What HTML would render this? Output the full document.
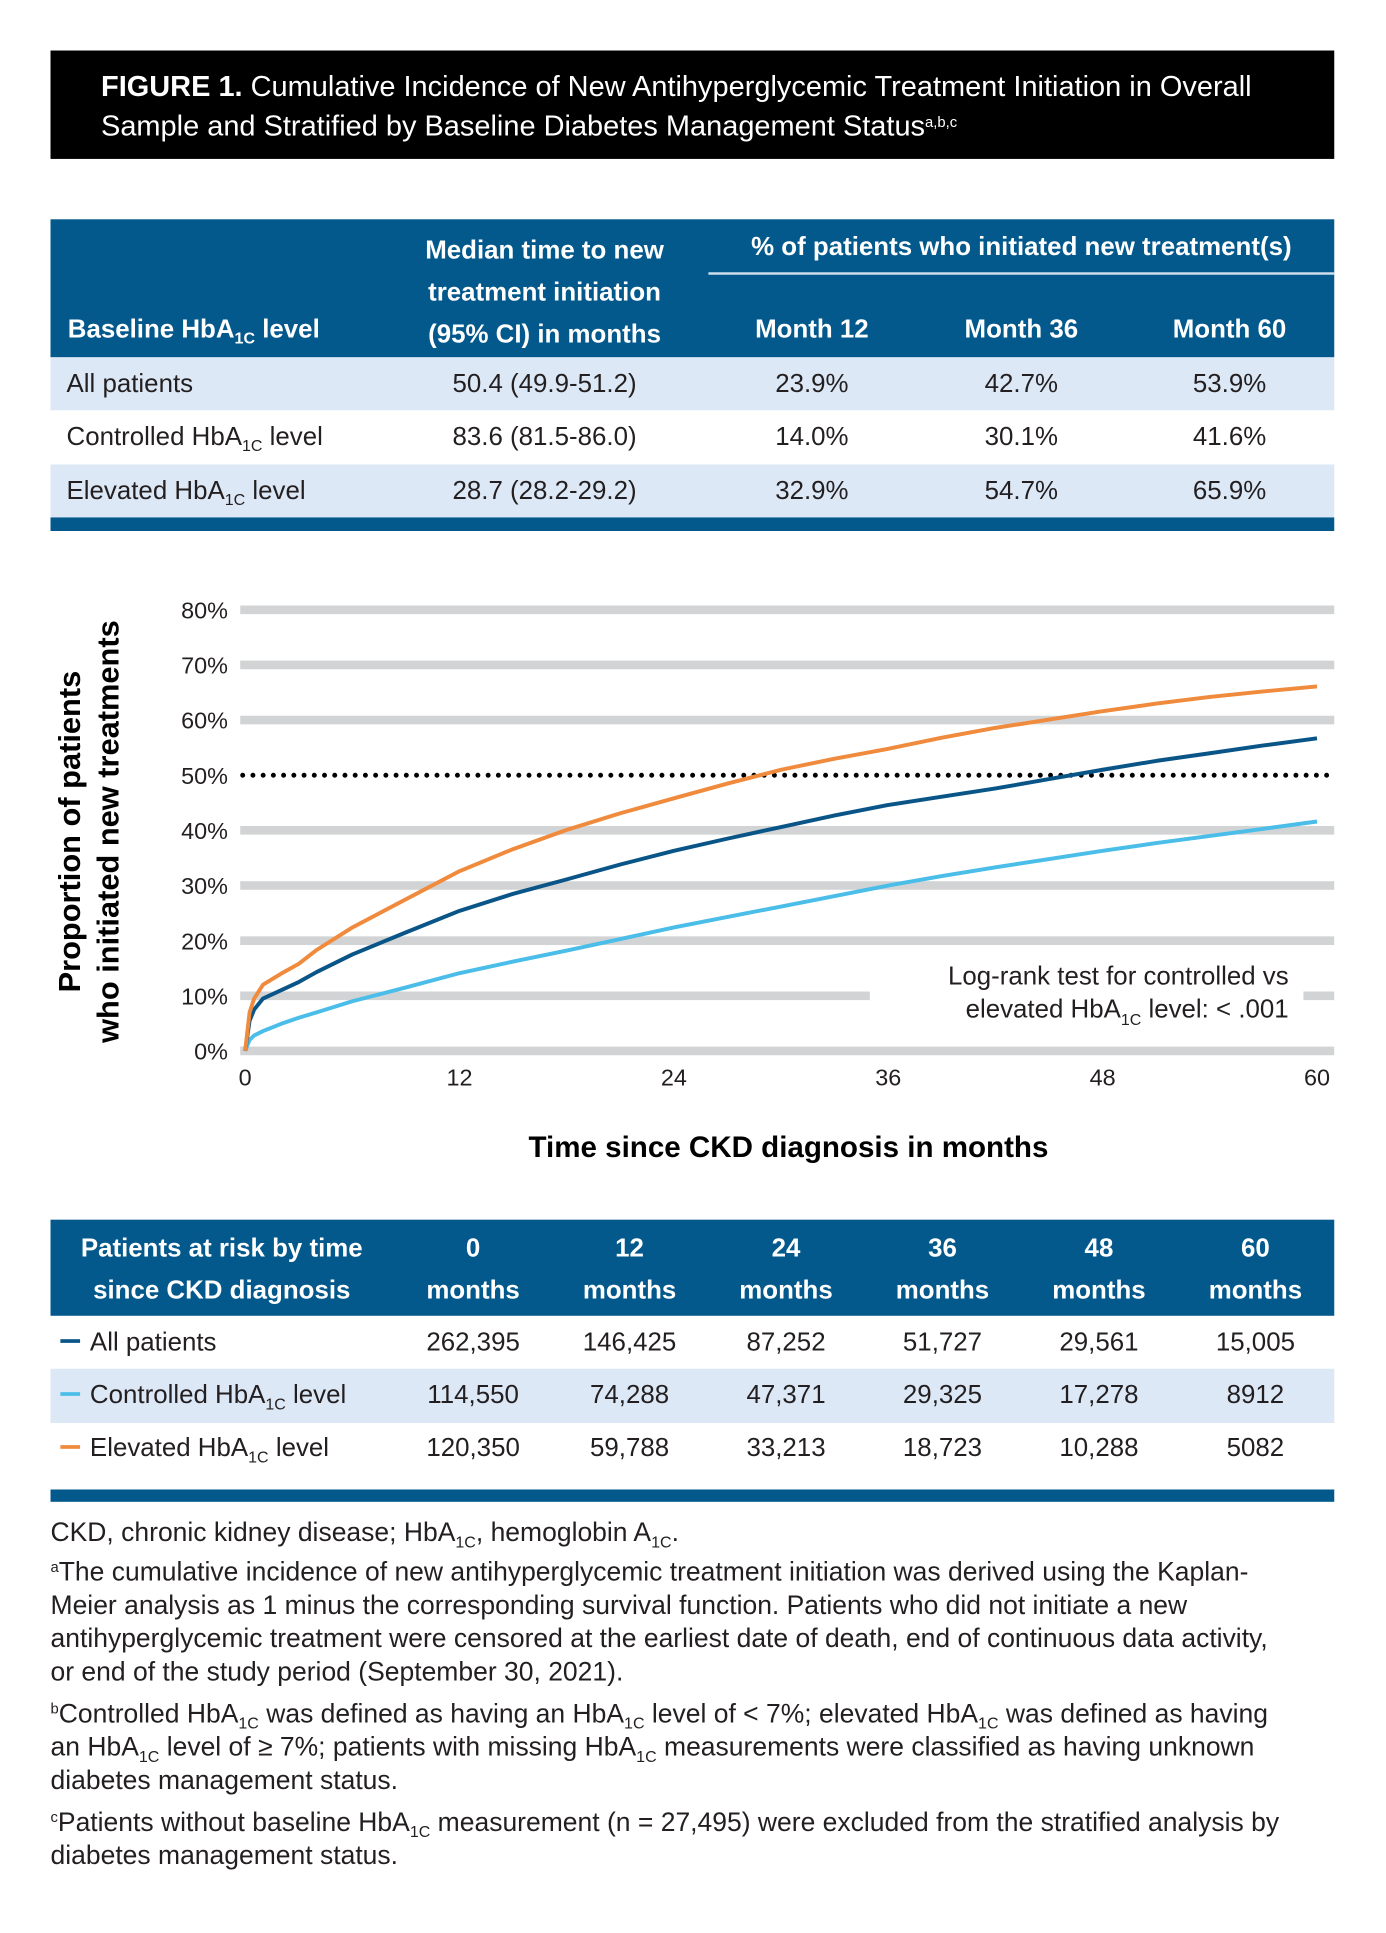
<!DOCTYPE html>
<html><head><meta charset="utf-8">
<style>
html,body{margin:0;padding:0;background:#fff;}
body{width:1386px;height:1933px;overflow:hidden;position:relative;}
#wrap{position:absolute;left:0;top:0;width:1125px;height:1569px;transform:scale(1.232);transform-origin:0 0;font-family:"Liberation Sans",sans-serif;color:#231f20;}
.abs{position:absolute;}
.hdr{background:#000;left:41px;top:41px;width:1042px;height:88px;color:#fff;font-size:23.5px;line-height:32px;box-sizing:border-box;padding:13px 0 0 41px;white-space:nowrap;}
.blue{background:#03588c;}
.lt{background:#dce8f6;}
.th{color:#fff;font-weight:bold;font-size:21px;white-space:nowrap;}
.td{font-size:21px;white-space:nowrap;}
.c{transform:translateX(-50%);text-align:center;}
sub{font-size:13px;vertical-align:-5px;line-height:0;}
sup{font-size:12px;vertical-align:7px;line-height:0;}
.fn{left:41px;font-size:21.5px;line-height:27px;white-space:nowrap;color:#231f20;}
.sw{display:inline-block;width:16px;height:3px;vertical-align:middle;margin-right:8px;position:relative;top:-2px;}
</style></head>
<body>
<div id="wrap">
<div class="abs hdr"><b>FIGURE 1.</b> Cumulative Incidence of New Antihyperglycemic Treatment Initiation in Overall<br>Sample and Stratified by Baseline Diabetes Management Status<sup>a,b,c</sup></div>

<div class="abs blue" style="left:41px;top:178px;width:1042px;height:112px"></div>
<div class="abs" style="left:575px;top:221px;width:508px;height:2px;background:#cfe0ef"></div>
<div class="abs th" style="left:55px;top:256px">Baseline HbA<sub>1C</sub> level</div>
<div class="abs th c" style="left:442px;top:187px;line-height:34px">Median time to new<br>treatment initiation<br>(95% CI) in months</div>
<div class="abs th c" style="left:829px;top:189px">% of patients who initiated new treatment(s)</div>
<div class="abs th c" style="left:659px;top:256px">Month 12</div>
<div class="abs th c" style="left:829px;top:256px">Month 36</div>
<div class="abs th c" style="left:998px;top:256px">Month 60</div>
<div class="abs lt" style="left:41px;top:290px;width:1042px;height:43px"></div>
<div class="abs lt" style="left:41px;top:377px;width:1042px;height:43px"></div>
<div class="abs blue" style="left:41px;top:420px;width:1042px;height:11px"></div>
<div class="abs td" style="left:54px;top:300px">All patients</div>
<div class="abs td c" style="left:442px;top:300px">50.4 (49.9-51.2)</div>
<div class="abs td c" style="left:659px;top:300px">23.9%</div>
<div class="abs td c" style="left:829px;top:300px">42.7%</div>
<div class="abs td c" style="left:998px;top:300px">53.9%</div>
<div class="abs td" style="left:54px;top:343px">Controlled HbA<sub>1C</sub> level</div>
<div class="abs td c" style="left:442px;top:343px">83.6 (81.5-86.0)</div>
<div class="abs td c" style="left:659px;top:343px">14.0%</div>
<div class="abs td c" style="left:829px;top:343px">30.1%</div>
<div class="abs td c" style="left:998px;top:343px">41.6%</div>
<div class="abs td" style="left:54px;top:387px">Elevated HbA<sub>1C</sub> level</div>
<div class="abs td c" style="left:442px;top:387px">28.7 (28.2-29.2)</div>
<div class="abs td c" style="left:659px;top:387px">32.9%</div>
<div class="abs td c" style="left:829px;top:387px">54.7%</div>
<div class="abs td c" style="left:998px;top:387px">65.9%</div>

<svg class="abs" id="chart" style="left:0;top:0" width="1125" height="980"></svg>

<div class="abs blue" style="left:41px;top:990px;width:1042px;height:78px"></div>
<div class="abs th c" style="left:180px;top:997px;line-height:34px">Patients at risk by time<br>since CKD diagnosis</div>
<div class="abs lt" style="left:41px;top:1111px;width:1042px;height:44px"></div>
<div class="abs blue" style="left:41px;top:1209px;width:1042px;height:10px"></div>
<div class="abs td" style="left:49px;top:1078px"><span class="sw" style="background:#0a5588"></span>All patients</div>
<div class="abs td" style="left:49px;top:1121px"><span class="sw" style="background:#4bbde9"></span>Controlled HbA<sub>1C</sub> level</div>
<div class="abs td" style="left:49px;top:1164px"><span class="sw" style="background:#f08a3c"></span>Elevated HbA<sub>1C</sub> level</div>

<div class="abs fn" style="top:1231px">CKD, chronic kidney disease; HbA<sub>1C</sub>, hemoglobin A<sub>1C</sub>.</div>
<div class="abs fn" style="top:1263px"><sup>a</sup>The cumulative incidence of new antihyperglycemic treatment initiation was derived using the Kaplan-<br>Meier analysis as 1 minus the corresponding survival function. Patients who did not initiate a new<br>antihyperglycemic treatment were censored at the earliest date of death, end of continuous data activity,<br>or end of the study period (September 30, 2021).</div>
<div class="abs fn" style="top:1378px"><sup>b</sup>Controlled HbA<sub>1C</sub> was defined as having an HbA<sub>1C</sub> level of &lt; 7%; elevated HbA<sub>1C</sub> was defined as having<br>an HbA<sub>1C</sub> level of ≥ 7%; patients with missing HbA<sub>1C</sub> measurements were classified as having unknown<br>diabetes management status.</div>
<div class="abs fn" style="top:1466px"><sup>c</sup>Patients without baseline HbA<sub>1C</sub> measurement (n = 27,495) were excluded from the stratified analysis by<br>diabetes management status.</div>
</div>

<script>
const months = [0, 0.25, 0.5, 1, 2, 3, 4, 6, 9, 12, 15, 18, 21, 24, 27, 30, 33, 36, 39, 42, 45, 48, 51, 54, 57, 60];
const allPatients = [0, 5.5, 7.5, 9.5, 11, 12.5, 14.3, 17.5, 21.5, 25.4, 28.5, 31.1, 33.8, 36.3, 38.5, 40.6, 42.7, 44.6, 46.1, 47.6, 49.3, 51, 52.6, 54, 55.4, 56.7];
const controlled = [0, 2, 2.8, 3.6, 4.9, 6, 7, 9, 11.5, 14.1, 16.2, 18.2, 20.3, 22.4, 24.3, 26.2, 28.1, 30, 31.7, 33.3, 34.8, 36.3, 37.7, 39, 40.3, 41.6];
const elevated = [0, 7, 9.5, 12, 14, 15.8, 18.3, 22.4, 27.5, 32.6, 36.6, 40.1, 43.1, 45.8, 48.5, 51, 53, 54.8, 56.8, 58.6, 60.1, 61.6, 63, 64.2, 65.2, 66.1];
const yTicks = [0, 10, 20, 30, 40, 50, 60, 70, 80];
const yTickLabels = ["0%", "10%", "20%", "30%", "40%", "50%", "60%", "70%", "80%"];
const xTicks = [0, 12, 24, 36, 48, 60];
const medianLevel = 50;

const NS = "http://www.w3.org/2000/svg";
const svg = document.getElementById('chart');
const X = m => 199 + m * (1069 - 199) / 60;
const Y = v => 853 - v * (853 - 495) / 80;
function mk(tag, attrs, parent) {
  const e = document.createElementNS(NS, tag);
  for (const k in attrs) e.setAttribute(k, attrs[k]);
  (parent || svg).appendChild(e);
  return e;
}
const font = '"Liberation Sans",sans-serif';
yTicks.forEach((t, i) => {
  if (t !== medianLevel) {
    const g = mk('line', {x1: 195, x2: 1083, y1: Y(t), y2: Y(t), stroke: '#d1d3d4', 'stroke-width': 7});
    
    
  }
  const l = mk('text', {x: 185, y: Y(t) + 7, 'text-anchor': 'end', 'font-size': 19, 'font-family': font, fill: '#231f20'});
  l.textContent = yTickLabels[i];
  
  
});
const dl = mk('line', {x1: 197, x2: 1083, y1: Y(medianLevel), y2: Y(medianLevel), stroke: '#000', 'stroke-width': 4, 'stroke-dasharray': '0 8.3', 'stroke-linecap': 'round'});


xTicks.forEach(t => {
  const l = mk('text', {x: X(t), y: 881, 'text-anchor': 'middle', 'font-size': 19, 'font-family': font, fill: '#231f20'});
  l.textContent = t;
  
  
});
const ab = mk('rect', {x: 706, y: 770, width: 352, height: 65, fill: '#fff'});


const series = [[controlled, '#4bbde9', 'controlled-line'], [allPatients, '#0a5588', 'all-patients-line'], [elevated, '#f08a3c', 'elevated-line']];
series.forEach(s => {
  const d = s[0].map((v, i) => (i ? 'L' : 'M') + X(months[i]).toFixed(1) + ',' + Y(v).toFixed(1)).join(' ');
  const p = mk('path', {d: d, fill: 'none', stroke: s[1], 'stroke-width': 3.2, 'stroke-linejoin': 'round'});
  
  
});
const a1 = mk('text', {x: 1046, y: 799, 'text-anchor': 'end', 'font-size': 21, 'font-family': font, fill: '#231f20'});
a1.textContent = 'Log-rank test for controlled vs';


const a2 = mk('text', {x: 1046, y: 826, 'text-anchor': 'end', 'font-size': 21, 'font-family': font, fill: '#231f20'});
a2.innerHTML = 'elevated HbA<tspan font-size="13" dy="6">1C</tspan><tspan dy="-6"> level: &lt; .001</tspan>';


const xt = mk('text', {x: 640, y: 939, 'text-anchor': 'middle', 'font-size': 24, 'font-weight': 'bold', 'font-family': font, fill: '#000'});
xt.textContent = 'Time since CKD diagnosis in months';


const yt = mk('text', {transform: 'translate(70,675) rotate(-90)', 'text-anchor': 'middle', 'font-size': 25, 'font-weight': 'bold', 'font-family': font, fill: '#000'});
yt.innerHTML = '<tspan x="0" dy="-5">Proportion of patients</tspan><tspan x="0" dy="31">who initiated new treatments</tspan>';



const riskCols = ['0', '12', '24', '36', '48', '60'];
const riskAll = ['262,395', '146,425', '87,252', '51,727', '29,561', '15,005'];
const riskControlled = ['114,550', '74,288', '47,371', '29,325', '17,278', '8912'];
const riskElevated = ['120,350', '59,788', '33,213', '18,723', '10,288', '5082'];
const colX = [384, 511, 638, 765, 892, 1019];
const wrap = document.getElementById('wrap');
riskCols.forEach((c, i) => {
  const d = document.createElement('div');
  d.className = 'abs th c';
  d.style.left = colX[i] + 'px'; d.style.top = '997px'; d.style.lineHeight = '34px';
  d.innerHTML = c + '<br>months';
  
  
  wrap.appendChild(d);
});
[[riskAll, 1078, 'risk-all'], [riskControlled, 1121, 'risk-controlled'], [riskElevated, 1164, 'risk-elevated']].forEach(r => {
  r[0].forEach((v, i) => {
    const d = document.createElement('div');
    d.className = 'abs td c';
    d.style.left = colX[i] + 'px'; d.style.top = r[1] + 'px';
    d.textContent = v;
    
    
    wrap.appendChild(d);
  });
});
</script>
</body></html>
